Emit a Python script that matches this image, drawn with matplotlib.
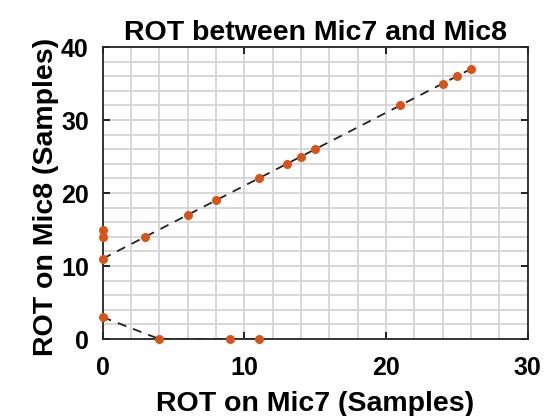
import matplotlib
matplotlib.use("Agg")
import matplotlib.pyplot as plt
from matplotlib.ticker import MultipleLocator

plt.rcParams['font.family'] = ['Liberation Sans', 'DejaVu Sans']
plt.rcParams['font.weight'] = 'bold'

# ROT pairs for the two microphones (in samples)
upper_mic7 = [0, 3, 6, 8, 11, 13, 14, 15, 21, 24, 25, 26]
upper_mic8 = [11, 14, 17, 19, 22, 24, 25, 26, 32, 35, 36, 37]
lower_mic7 = [0, 4, 9, 11]
lower_mic8 = [3, 0, 0, 0]
extra_mic7 = [0, 0]
extra_mic8 = [14, 15]

orange = '#D95319'

fig = plt.figure(figsize=(5.52, 4.16), dpi=100)
ax = fig.add_axes([0.186, 0.185, 0.770, 0.702])

# dashed guide through each branch
ax.plot(upper_mic7, upper_mic8, color='#222222', linewidth=1.3, dashes=(5, 4), zorder=2)
ax.plot(lower_mic7, lower_mic8, color='#222222', linewidth=1.3, dashes=(5, 4), zorder=2)

# measured points
all_x = upper_mic7 + lower_mic7 + extra_mic7
all_y = upper_mic8 + lower_mic8 + extra_mic8
ax.plot(all_x, all_y, 'o', color=orange, markersize=6.5, markeredgewidth=0,
        zorder=3, clip_on=False)

ax.set_xlim(0, 30)
ax.set_ylim(0, 40)
ax.xaxis.set_major_locator(MultipleLocator(10))
ax.yaxis.set_major_locator(MultipleLocator(10))
ax.xaxis.set_minor_locator(MultipleLocator(2))
ax.yaxis.set_minor_locator(MultipleLocator(2))
ax.grid(which='both', color='#d4d4d4', linewidth=1.3, zorder=0)
ax.set_axisbelow(True)
ax.tick_params(which='major', direction='in', length=5, width=1.2,
               top=True, right=True, labelsize=18)
ax.tick_params(axis='x', pad=12)
ax.tick_params(axis='y', pad=10)
ax.tick_params(which='minor', length=0)
for s in ax.spines.values():
    s.set_linewidth(1.3)
    s.set_color('#262626')

ax.set_title('ROT between Mic7 and Mic8', fontsize=20.5, fontweight='bold', pad=5)
ax.set_xlabel('ROT on Mic7 (Samples)', fontsize=20.5, fontweight='bold', labelpad=8)
ax.set_ylabel('ROT on Mic8 (Samples)', fontsize=20.5, fontweight='bold')
ax.yaxis.set_label_coords(-0.103, 0.488)

fig.savefig('out.png', dpi=100)
